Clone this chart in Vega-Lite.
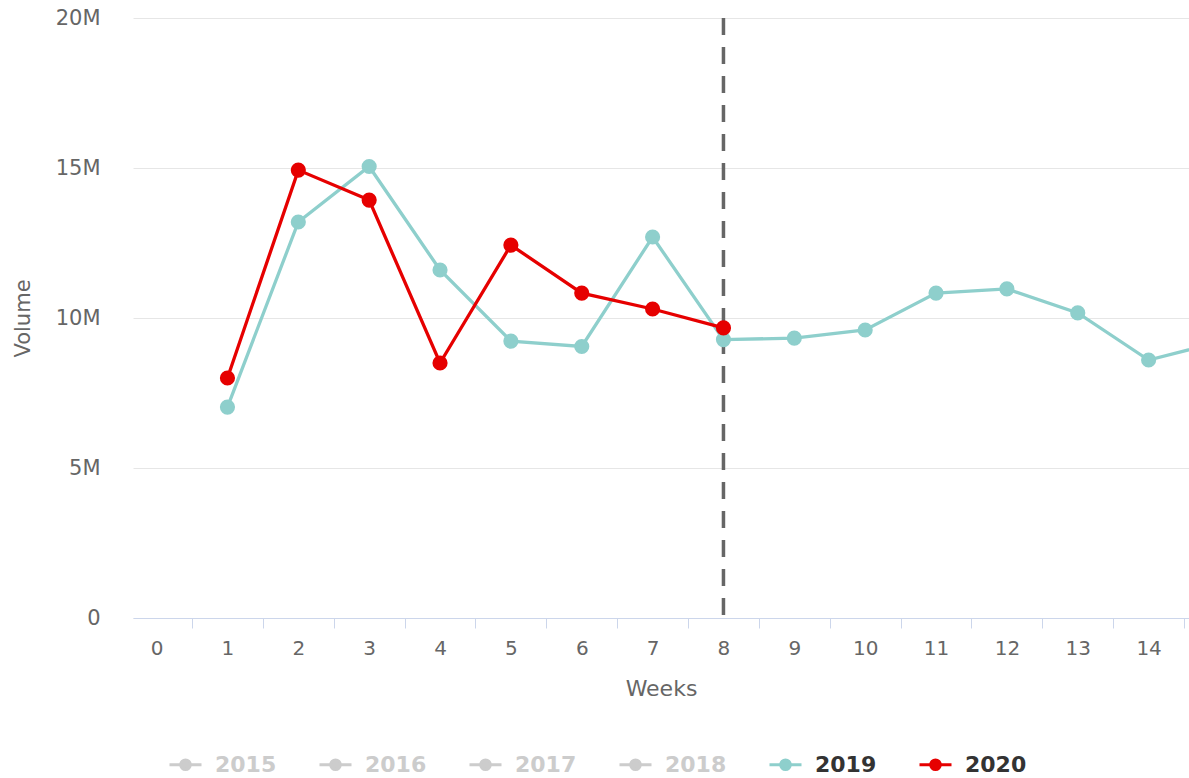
{
  "$schema": "https://vega.github.io/schema/vega-lite/v6.json",
  "width": 1056,
  "height": 600,
  "autosize": "none",
  "padding": {"left": 133, "top": 18, "right": 0, "bottom": 160},
  "background": "white",
  "config": {
    "view": {"stroke": null},
    "font": "DejaVu Sans",
    "axisX": {"labelColor": "#666666", "labelFontSize": 20, "titleColor": "#666666", "titleFontSize": 22, "titleFontWeight": "normal", "grid": false},
    "axisY": {"labelColor": "#666666", "labelFontSize": 21, "titleColor": "#666666", "titleFontSize": 21, "titleFontWeight": "normal"}
  },
  "datasets": {
    "series": [
      {"week": 1, "year": "2019", "volume": 7030000},
      {"week": 2, "year": "2019", "volume": 13200000},
      {"week": 3, "year": "2019", "volume": 15050000},
      {"week": 4, "year": "2019", "volume": 11600000},
      {"week": 5, "year": "2019", "volume": 9230000},
      {"week": 6, "year": "2019", "volume": 9050000},
      {"week": 7, "year": "2019", "volume": 12700000},
      {"week": 8, "year": "2019", "volume": 9280000},
      {"week": 9, "year": "2019", "volume": 9330000},
      {"week": 10, "year": "2019", "volume": 9600000},
      {"week": 11, "year": "2019", "volume": 10830000},
      {"week": 12, "year": "2019", "volume": 10970000},
      {"week": 13, "year": "2019", "volume": 10170000},
      {"week": 14, "year": "2019", "volume": 8600000},
      {"week": 15, "year": "2019", "volume": 9200000},
      {"week": 1, "year": "2020", "volume": 8000000},
      {"week": 2, "year": "2020", "volume": 14930000},
      {"week": 3, "year": "2020", "volume": 13930000},
      {"week": 4, "year": "2020", "volume": 8500000},
      {"week": 5, "year": "2020", "volume": 12430000},
      {"week": 6, "year": "2020", "volume": 10830000},
      {"week": 7, "year": "2020", "volume": 10300000},
      {"week": 8, "year": "2020", "volume": 9670000}
    ],
    "marker": [{"week": 8}]
  },
  "resolve": {"axis": {"x": "independent"}},
  "layer": [
    {
      "data": {"name": "marker"},
      "mark": {"type": "rule", "stroke": "#666666", "strokeWidth": 3.5, "strokeDash": [17, 12]},
      "encoding": {
        "x": {
          "field": "week", "type": "quantitative",
          "scale": {"domain": [-0.333, 14.57], "nice": false, "zero": false},
          "axis": {
            "orient": "bottom",
            "values": [0.5, 1.5, 2.5, 3.5, 4.5, 5.5, 6.5, 7.5, 8.5, 9.5, 10.5, 11.5, 12.5, 13.5, 14.5],
            "labels": false, "ticks": true, "tickSize": 10, "tickColor": "#ccd6eb", "tickWidth": 1,
            "domain": true, "domainColor": "#ccd6eb", "domainWidth": 1, "title": null
          }
        }
      }
    },
    {
      "data": {"name": "series"},
      "mark": {"type": "line", "strokeWidth": 3.3, "clip": true},
      "encoding": {
        "x": {
          "field": "week", "type": "quantitative",
          "axis": {
            "orient": "bottom",
            "values": [0, 1, 2, 3, 4, 5, 6, 7, 8, 9, 10, 11, 12, 13, 14],
            "ticks": false, "tickSize": 0, "domain": false, "labelPadding": 20,
            "title": "Weeks", "titlePadding": 20, "format": "d"
          }
        },
        "y": {
          "field": "volume", "type": "quantitative",
          "scale": {"domain": [0, 20000000], "nice": false},
          "axis": {
            "values": [0, 5000000, 10000000, 15000000, 20000000],
            "labelExpr": "datum.value == 0 ? '0' : (datum.value / 1000000) + 'M'",
            "domain": false, "ticks": false, "tickSize": 0, "labelPadding": 33,
            "grid": true, "gridColor": "#e6e6e6", "gridWidth": 1,
            "title": "Volume", "titlePadding": 22
          }
        },
        "color": {
          "field": "year", "type": "nominal",
          "scale": {"domain": ["2015", "2016", "2017", "2018", "2019", "2020"], "range": ["#cccccc", "#cccccc", "#cccccc", "#cccccc", "#8ecfcc", "#e60000"]},
          "legend": {
            "title": null, "orient": "none", "direction": "horizontal", "columns": 6,
            "legendX": 35, "legendY": 729,
            "symbolType": "M-1,0L1,0M0.3,0A0.3,0.3,0,1,1,-0.3,0A0.3,0.3,0,1,1,0.3,0Z",
            "symbolSize": 1024, "symbolStrokeWidth": 3,
            "labelFontSize": 22, "labelFontWeight": "bold", "labelOffset": 12, "columnPadding": 36,
            "labelFont": "DejaVu Sans",
            "encode": {
              "symbols": {"update": {"fill": {"scale": "color", "field": "value"}, "stroke": {"scale": "color", "field": "value"}, "strokeWidth": {"value": 3}, "opacity": {"value": 1}}},
              "labels": {"update": {"fill": [{"test": "datum.value == '2019' || datum.value == '2020'", "value": "#333333"}, {"value": "#cccccc"}]}}
            }
          }
        }
      }
    },
    {
      "data": {"name": "series"},
      "mark": {"type": "point", "filled": true, "size": 230, "opacity": 1, "clip": true},
      "encoding": {
        "x": {"field": "week", "type": "quantitative", "axis": null},
        "y": {"field": "volume", "type": "quantitative"},
        "color": {"field": "year", "type": "nominal"}
      }
    }
  ]
}
